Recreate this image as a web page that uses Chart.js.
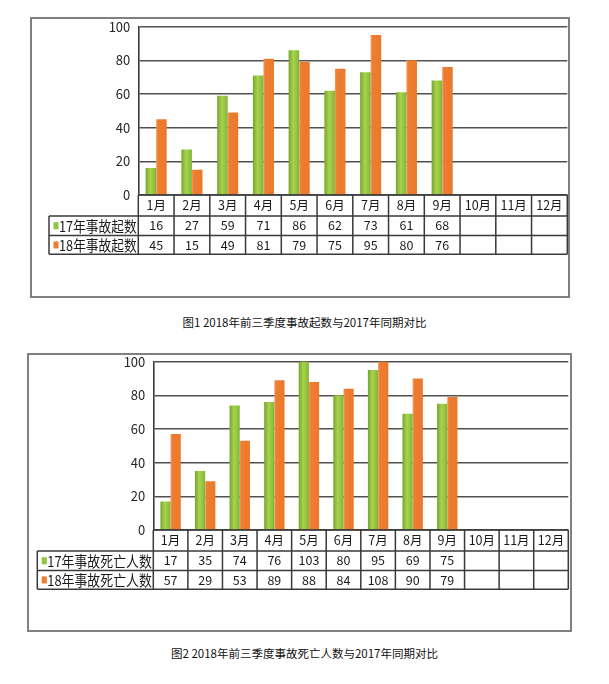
<!DOCTYPE html>
<html>
<head>
<meta charset="utf-8">
<script src="https://cdn.jsdelivr.net/npm/chart.js@4.4.1/dist/chart.umd.min.js"></script>
<style>
  html, body { margin: 0; padding: 0; background: #fff; }
  body { width: 609px; height: 684px; position: relative; overflow: hidden; }
  .frame { position: absolute; border: 2px solid #808080; box-sizing: border-box; background: #fff; }
  .frame canvas { position: absolute; left: 0; top: 0; }
  .caption { position: absolute; left: 0; width: 609px; text-align: center;
             font-family: 'Noto Sans CJK SC', sans-serif; font-size: 11.5px; line-height: 14px; color: #111; }
</style>
</head>
<body>
<div class="frame" style="left:30px; top:17px; width:540px; height:281px;">
  <canvas id="accidentChart" width="536" height="277"></canvas>
</div>
<div class="caption" style="top:315px;">图1 2018年前三季度事故起数与2017年同期对比</div>

<div class="frame" style="left:27px; top:353px; width:545px; height:279px;">
  <canvas id="deathChart" width="541" height="275"></canvas>
</div>
<div class="caption" style="top:646px;">图2 2018年前三季度事故死亡人数与2017年同期对比</div>

<script>
// data (data table under each plot)
const months = ['1月', '2月', '3月', '4月', '5月', '6月', '7月', '8月', '9月', '10月', '11月', '12月'];

const accidents17Label = '17年事故起数';
const accidents18Label = '18年事故起数';
const accidents17 = [16, 27, 59, 71, 86, 62, 73, 61, 68, null, null, null];
const accidents18 = [45, 15, 49, 81, 79, 75, 95, 80, 76, null, null, null];

const deaths17Label = '17年事故死亡人数';
const deaths18Label = '18年事故死亡人数';
const deaths17 = [17, 35, 74, 76, 103, 80, 95, 69, 75, null, null, null];
const deaths18 = [57, 29, 53, 89, 88, 84, 108, 90, 79, null, null, null];

const yTicks = [0, 20, 40, 60, 80, 100];

const FONT = "'Noto Sans CJK SC', sans-serif";
const CAT_PCT = 0.59;
const GREEN = [[0, '#76a52d'], [0.45, '#a8d44c'], [1, '#84b338']];
const ORANGE = [[0, '#f29a5e'], [0.18, '#ee7d31'], [1, '#eb792c']];

// horizontal gradient across one bar, positioned from the category scale
function barFill(side, stops) {
    return function (c) {
        const chart = c.chart;
        const x = chart.scales.x;
        if (c.type !== 'data' || !x || !chart.chartArea) {
            return stops[1][1];
        }
        const step = x.width / chart.data.labels.length;
        const w = step * CAT_PCT / 2;
        const center = x.getPixelForValue(c.dataIndex);
        const x0 = side === 0 ? center - w : center;
        const g = chart.ctx.createLinearGradient(x0, 0, x0 + w, 0);
        stops.forEach(([o, col]) => g.addColorStop(o, col));
        return g;
    };
}

// draws the Excel-like data table grid and the legend column
const dataTablePlugin = {
    id: 'dataTable',
    afterDraw(chart, args, opts) {
        const { ctx, chartArea: area, scales: { x } } = chart;
        const rows = opts.rows.map(r => area.bottom + r);
        const n = chart.data.labels.length;
        const step = x.width / n;

        ctx.save();
        ctx.strokeStyle = opts.color;
        ctx.lineWidth = opts.lineWidth;
        ctx.beginPath();
        ctx.moveTo(area.left, rows[0]);
        ctx.lineTo(area.right, rows[0]);
        for (let i = 1; i < rows.length; i++) {
            ctx.moveTo(opts.left, rows[i]);
            ctx.lineTo(area.right, rows[i]);
        }
        ctx.moveTo(opts.left, rows[1]);
        ctx.lineTo(opts.left, rows[3]);
        for (let i = 0; i <= n; i++) {
            const px = i < n ? x.getPixelForValue(i) - step / 2 : area.right;
            ctx.moveTo(px, rows[0]);
            ctx.lineTo(px, rows[3]);
        }
        ctx.stroke();

        ctx.font = opts.font;
        ctx.textBaseline = 'middle';
        ctx.textAlign = 'left';
        const textX = opts.left + 10;
        const avail = area.left - textX - 1.5;
        chart.data.datasets.forEach((ds, i) => {
            const cy = (rows[i + 1] + rows[i + 2]) / 2;
            ctx.fillStyle = ds.keyColor;
            ctx.fillRect(opts.left + 4.5, cy - 3.5, 5, 7);
            // squeeze the series name into its cell like the narrow source font
            const w = ctx.measureText(ds.label).width;
            const sx = Math.min(1, avail / w);
            ctx.save();
            ctx.translate(textX, cy + 0.5);
            ctx.scale(sx, 1);
            ctx.fillStyle = opts.textColor;
            ctx.fillText(ds.label, 0, 0);
            ctx.restore();
        });
        ctx.restore();
    }
};

function cell(v) {
    return v === null ? '' : String(v);
}

function CreateTableChart(canvasId, labelA, valuesA, labelB, valuesB, box) {
    const labels = months.map((m, i) => [m, cell(valuesA[i]), cell(valuesB[i])]);
    const tableHeight = box.rows[box.rows.length - 1];

    return new Chart(document.getElementById(canvasId), {
        type: 'bar',
        data: {
            labels: labels,
            datasets: [
                { label: labelA, data: valuesA, keyColor: '#8cc63f', backgroundColor: barFill(0, GREEN), borderWidth: 0, clip: 0 },
                { label: labelB, data: valuesB, keyColor: '#ee7d31', backgroundColor: barFill(1, ORANGE), borderWidth: 0, clip: 0 }
            ]
        },
        options: {
            responsive: false,
            animation: false,
            events: [],
            categoryPercentage: CAT_PCT,
            barPercentage: 1,
            layout: { padding: { left: 0, top: box.top, right: box.right, bottom: box.bottom } },
            plugins: {
                legend: { display: false },
                tooltip: { enabled: false },
                dataTable: {
                    rows: box.rows,
                    left: box.tableLeft,
                    color: '#3a3a3a',
                    lineWidth: 1.5,
                    textColor: '#1a1a1a',
                    font: "15px " + FONT
                }
            },
            scales: {
                x: {
                    offset: true,
                    grid: { display: false, drawTicks: false },
                    border: { display: false },
                    ticks: {
                        padding: 0,
                        autoSkip: false,
                        maxRotation: 0,
                        color: '#1a1a1a',
                        font: { family: FONT, size: 12.5, lineHeight: '20px' }
                    },
                    afterFit(s) { s.height = tableHeight; }
                },
                y: {
                    min: yTicks[0],
                    max: yTicks[yTicks.length - 1],
                    afterBuildTicks(s) { s.ticks = yTicks.map(v => ({ value: v })); },
                    grid: { color: '#505050', lineWidth: 1.6, drawTicks: false },
                    border: { display: true, color: '#3a3a3a', width: 1.6 },
                    ticks: { padding: 8, color: '#262626', font: { family: FONT, size: 13 } },
                    afterFit(s) {
                        s.width = box.plotLeft;
                        s.paddingTop = 0;
                        s.paddingBottom = 0;
                    }
                }
            }
        },
        plugins: [dataTablePlugin]
    });
}

CreateTableChart('accidentChart', accidents17Label, accidents17, accidents18Label, accidents18, {
    plotLeft: 106.3, tableLeft: 17, top: 7.7, right: 0.7, bottom: 41.7,
    rows: [0, 21, 40.5, 59.3]
});

CreateTableChart('deathChart', deaths17Label, deaths17, deaths18Label, deaths18, {
    plotLeft: 124.3, tableLeft: 8.3, top: 6.7, right: 1.7, bottom: 40.7,
    rows: [0, 21, 40.5, 59.3]
});
</script>
</body>
</html>
